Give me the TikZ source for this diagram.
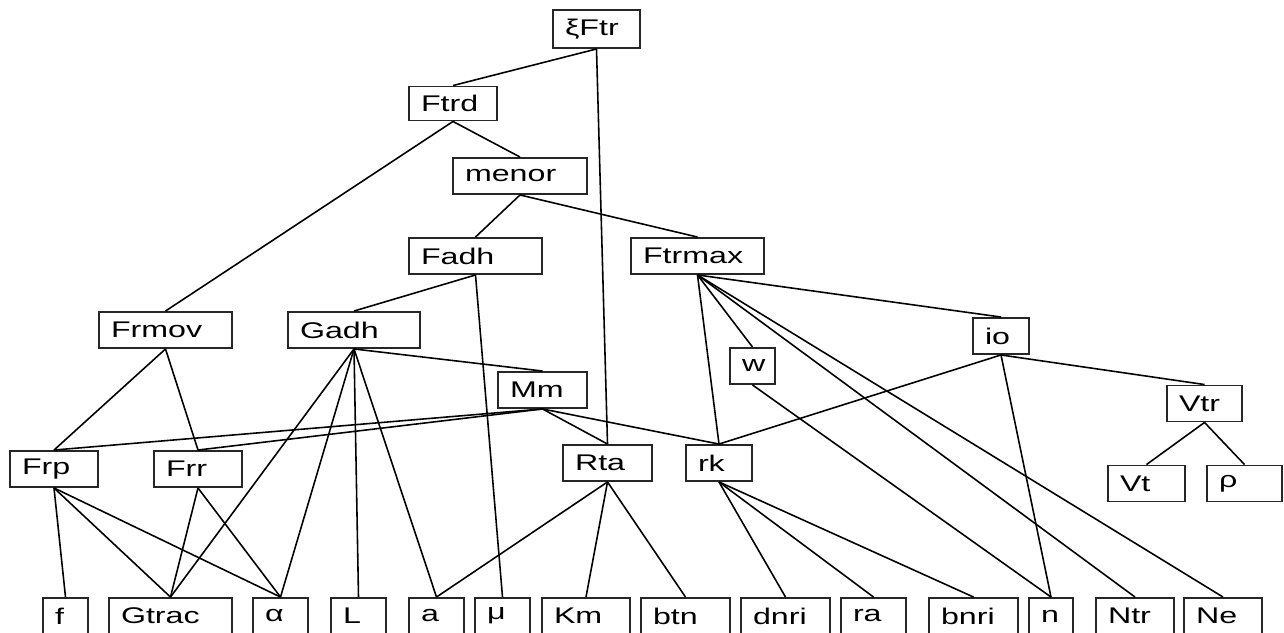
\documentclass[tikz,border=0pt]{standalone}
\usepackage{fontspec}
\setmainfont{Liberation Sans}[FakeStretch=1.42]
\usetikzlibrary{shapes,arrows,calc}
\tikzset{
    block/.style={
        draw=black!85,
        line width=1.1pt,
        rectangle,
        inner xsep=0.24cm,
        inner ysep=0pt,
        minimum height=0.72cm,
        align=left,
        text width=#1
    },
    block/.default=1.28cm,
    link/.style={
        draw=black,
        line width=0.9pt
    },
}

\begin{document}
\begin{tikzpicture}[x=0.02cm, y=-0.02cm, font=\fontsize{12.9}{14}\selectfont]
    \path[use as bounding box, clip] (0,0) rectangle (1284,632);

    % blocks
    \node[block=1.26cm, minimum height=0.76cm] (xiFtr) at (596.5,29) {ξFtr};
    \node[block, minimum height=0.68cm] (Ftrd) at (453,103.5) {Ftrd};
    \node[block=2.20cm] (menor) at (520,176) {menor};
    \node[block=2.18cm] (Fadh) at (475.5,256) {Fadh};
    \node[block=2.18cm] (Ftrmax) at (697.5,256) {Ftrmax};

    \node[block=2.18cm] (Frmov) at (165.5,330) {Frmov};
    \node[block=2.16cm] (Gadh) at (354,330) {Gadh};
    \node[block=0.64cm] (io) at (1001,336) {io};
    \node[block=0.42cm] (w) at (752.5,366) {w};
    \node[block=1.30cm] (Mm) at (542.5,390) {Mm};
    \node[block=1.02cm] (Vtr) at (1204.5,403.5) {Vtr};

    \node[block] (Frp) at (54,469) {Frp};
    \node[block] (Frr) at (198,469) {Frr};
    \node[block=1.30cm] (Rta) at (607.5,463) {Rta};
    \node[block=0.84cm] (rk) at (719,463) {rk};
    \node[block=1.06cm] (Vt) at (1146.5,483.5) {Vt};
    \node[block=1.02cm] (rho) at (1244.5,483.5) {ρ};

    % leaves
    \node[block=0.42cm] (f) at (65.5,616) {f};
    \node[block=1.98cm] (Gtrac) at (170.5,616) {Gtrac};
    \node[block=0.62cm] (alpha) at (280.5,616) {α};
    \node[block=0.62cm] (L) at (358.5,616) {L};
    \node[block=0.62cm] (a) at (436.5,616) {a};
    \node[block=0.62cm] (mu) at (502.5,616) {μ};
    \node[block] (Km) at (586,616) {Km};
    \node[block=1.30cm] (btn) at (685.5,616) {btn};
    \node[block=1.30cm] (dnri) at (785.5,616) {dnri};
    \node[block=0.82cm] (ra) at (873.5,616) {ra};
    \node[block=1.30cm] (bnri) at (973.5,616) {bnri};
    \node[block=0.40cm] (n) at (1051,616) {n};
    \node[block=1.08cm] (Ntr) at (1135,616) {Ntr};
    \node[block=1.08cm] (Ne) at (1223,616) {Ne};

    % lines
    \draw[link] (xiFtr.south) -- (Ftrd.north);
    \draw[link] (xiFtr.south) -- (Rta.north);
    \draw[link] (Ftrd.south) -- (menor.north);
    \draw[link] (Ftrd.south) -- (Frmov.north);
    \draw[link] (menor.south) -- (Fadh.north);
    \draw[link] (menor.south) -- (Ftrmax.north);
    \draw[link] (Fadh.south) -- (Gadh.north);
    \draw[link] (Fadh.south) -- (mu.north);

    \draw[link] (Ftrmax.south) -- (io.north);
    \draw[link] (Ftrmax.south) -- (w.north);
    \draw[link] (Ftrmax.south) -- (rk.north);
    \draw[link] (Ftrmax.south) -- (Ntr.north);
    \draw[link] (Ftrmax.south) -- (Ne.north);
    \draw[link] (w.south) -- (n.north);

    \draw[link] (io.south) -- (rk.north);
    \draw[link] (io.south) -- (n.north);
    \draw[link] (io.south) -- (Vtr.north);
    \draw[link] (Vtr.south) -- (Vt.north);
    \draw[link] (Vtr.south) -- (rho.north);

    \draw[link] (Frmov.south) -- (Frp.north);
    \draw[link] (Frmov.south) -- (Frr.north);

    \draw[link] (Gadh.south) -- (Mm.north);
    \draw[link] (Gadh.south) -- (Gtrac.north);
    \draw[link] (Gadh.south) -- (alpha.north);
    \draw[link] (Gadh.south) -- (L.north);
    \draw[link] (Gadh.south) -- (a.north);

    \draw[link] (Mm.south) -- (Frp.north);
    \draw[link] (Mm.south) -- (Frr.north);
    \draw[link] (Mm.south) -- (Rta.north);
    \draw[link] (Mm.south) -- (rk.north);

    \draw[link] (Frp.south) -- (f.north);
    \draw[link] (Frp.south) -- (Gtrac.north);
    \draw[link] (Frp.south) -- (alpha.north);
    \draw[link] (Frr.south) -- (Gtrac.north);
    \draw[link] (Frr.south) -- (alpha.north);

    \draw[link] (Rta.south) -- (a.north);
    \draw[link] (Rta.south) -- (Km.north);
    \draw[link] (Rta.south) -- (btn.north);

    \draw[link] (rk.south) -- (dnri.north);
    \draw[link] (rk.south) -- (ra.north);
    \draw[link] (rk.south) -- (bnri.north);

\end{tikzpicture}
\end{document}
